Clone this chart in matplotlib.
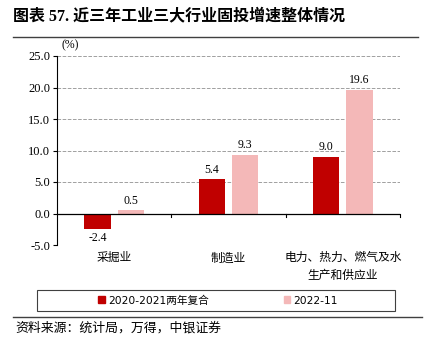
import numpy as np
import matplotlib.pyplot as plt
from matplotlib.lines import Line2D
from matplotlib.patches import Rectangle

plt.rcParams['font.family'] = ['Liberation Serif', 'Noto Sans CJK SC']

categories = ['采掘业', '制造业', '电力、热力、燃气及水\n生产和供应业']
series_names = ['2020-2021两年复合', '2022-11']
vals_2yr = [-2.4, 5.4, 9.0]
vals_2022 = [0.5, 9.3, 19.6]
colors = ['#c00000', '#f4b8b8']

W, H = 426, 338
fig = plt.figure(figsize=(W / 100, H / 100), dpi=100)
ax = fig.add_axes([57 / W, 1 - 245 / H, (400 - 57) / W, (245 - 56) / H])

x = np.arange(len(categories))
bw = 0.23
off = 0.145
ax.bar(x - off, vals_2yr, bw, color=colors[0], zorder=3)
ax.bar(x + off, vals_2022, bw, color=colors[1], zorder=3)

for xi, v in zip(x - off, vals_2yr):
    ax.text(xi, v + (0.6 if v >= 0 else -0.6), f'{v:.1f}', ha='center',
            va='bottom' if v >= 0 else 'top', fontsize=8.5)
for xi, v in zip(x + off, vals_2022):
    ax.text(xi, v + 0.6, f'{v:.1f}', ha='center', va='bottom', fontsize=8.5)

ax.set_xlim(-0.5, 2.5)
ax.set_ylim(-5, 25)
ax.set_yticks(np.arange(-5, 26, 5))
ax.set_yticklabels([f'{t:.1f}' for t in np.arange(-5, 26, 5)], fontsize=9)
ax.yaxis.grid(True, linestyle='--', color='#a0a0a0', linewidth=0.7, zorder=0)
ax.tick_params(axis='y', length=3, width=0.8, pad=2)

for s in ['top', 'right', 'bottom']:
    ax.spines[s].set_visible(False)
ax.spines['left'].set_linewidth(0.8)
ax.axhline(0, color='black', linewidth=0.9, zorder=4)
for b in [0.5, 1.5, 2.5]:
    ax.plot([b, b], [0, -0.5], color='black', linewidth=0.8, zorder=4, clip_on=False)

ax.set_xticks([])
for xi, c in zip(x, categories):
    ax.text(xi, -6.0, c, ha='center', va='top', fontsize=8.5,
            family=['Noto Sans CJK SC'], linespacing=1.45)

fig.text(70 / W, 1 - 45 / H, '(%)', ha='center', va='center', fontsize=8.5)

fig.text(13 / W, 1 - 16 / H, '图表 57. 近三年工业三大行业固投增速整体情况', ha='left', va='center',
         fontsize=11.5, fontweight='bold', family=['Liberation Serif', 'Noto Sans CJK SC'])
fig.add_artist(Line2D([13 / W, 418 / W], [1 - 37 / H, 1 - 37 / H], color='#404040', linewidth=1))

# legend box drawn separately so it can be wider than its contents
fig.add_artist(Rectangle((37 / W, 1 - 311 / H), (395 - 37) / W, 21 / H, transform=fig.transFigure,
                         fill=False, edgecolor='#404040', linewidth=0.8))
handles = [plt.Rectangle((0, 0), 1, 1, color=c) for c in colors]
leg = fig.legend(handles, series_names, loc='center', bbox_to_anchor=(218 / W, 1 - 300.5 / H),
                 ncol=2, frameon=False,
                 prop={'family': ['DejaVu Sans', 'Noto Sans CJK SC'], 'size': 7.7},
                 handlelength=0.6, handleheight=0.6, columnspacing=7.0, handletextpad=0.3,
                 borderpad=0.3, borderaxespad=0)

fig.add_artist(Line2D([13 / W, 422 / W], [1 - 317 / H, 1 - 317 / H], color='#404040', linewidth=1))
fig.text(15 / W, 1 - 328 / H, '资料来源：统计局，万得，中银证券', ha='left', va='center',
         fontsize=9.3, style='italic', family=['Noto Sans CJK SC'])

fig.savefig('out.png', dpi=100)
